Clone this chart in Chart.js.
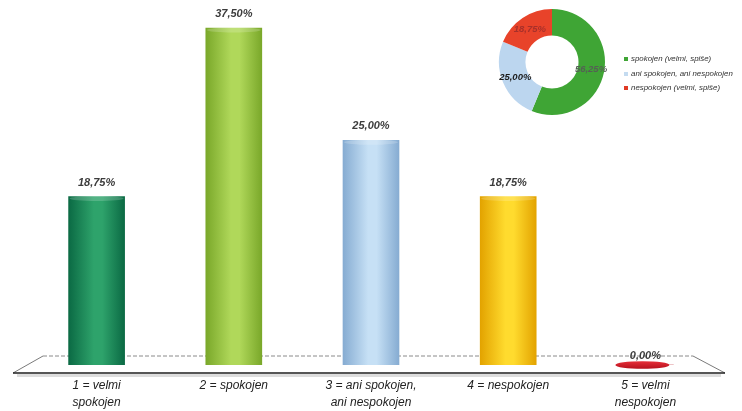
<!DOCTYPE html>
<html>
<head>
<meta charset="utf-8">
<script src="https://cdn.jsdelivr.net/npm/chart.js@4"></script>
<style>
  html,body{margin:0;padding:0;background:#fff;}
  #wrap{position:relative;width:742px;height:411px;overflow:hidden;}
  #bar{position:absolute;left:0;top:0;}
  #donut{position:absolute;left:496px;top:6px;}
  .leg{position:absolute;left:624px;font:italic 7.9px "Liberation Sans",Arial,sans-serif;color:#333;white-space:nowrap;}
  .leg span{display:inline-block;width:4px;height:4px;margin-right:3px;vertical-align:middle;}
</style>
</head>
<body>
<div id="wrap">
  <canvas id="bar" width="742" height="411"></canvas>
  <canvas id="donut" width="112" height="112"></canvas>
  <div class="leg" style="top:54px"><span style="background:#3fa535"></span>spokojen (velmi, spiše)</div>
  <div class="leg" style="top:69px"><span style="background:#c4dbf0"></span>ani spokojen, ani nespokojen</div>
  <div class="leg" style="top:83px"><span style="background:#e03a25"></span>nespokojen (velmi, spiše)</div>
</div>
<script>
// ---- data ----
const categories = [["1 = velmi","spokojen"],"2 = spokojen",["3 = ani spokojen,","ani nespokojen"],"4 = nespokojen",["5 = velmi","nespokojen"]];
const barValues = [18.75, 37.50, 25.00, 18.75, 0.00];
const barEdgeColors = ["#0b6a44","#7aa82a","#86acd2","#e3a300","#b8101e"];
const barMidColors  = ["#2ea36b","#b0d85a","#c6e0f5","#ffdb2e","#e02a34"];

const donutLabels = ["spokojen (velmi, spiše)","ani spokojen, ani nespokojen","nespokojen (velmi, spiše)"];
const donutValues = [56.25, 25.00, 18.75];
const donutColors = ["#3fa535","#bcd6ef","#e8432a"];
const donutTextColors = ["#555f55","#1a1a1a","#a8302a"];

const fmt = v => v.toFixed(2).replace('.', ',') + '%';
const BAR_W = 56;

// ---- bar chart ----
const floorPlugin = {
  id:'floor',
  beforeDatasetsDraw(chart){
    const {ctx, chartArea:a, scales} = chart;
    const base = scales.y.getPixelForValue(0);
    const yt = base - 9, yb = base + 8;
    const tl = a.left + 15, bl = a.left - 15, tr = a.right - 21, br = a.right + 11;
    ctx.save();
    ctx.strokeStyle = 'rgba(120,120,120,0.25)';
    ctx.lineWidth = 3;
    ctx.beginPath(); ctx.moveTo(bl+4, yb+2.5); ctx.lineTo(br-4, yb+2.5); ctx.stroke();
    ctx.strokeStyle = '#8a8a8a';
    ctx.lineWidth = 1;
    ctx.setLineDash([4,2]);
    ctx.beginPath(); ctx.moveTo(tl, yt); ctx.lineTo(tr, yt); ctx.stroke();
    ctx.setLineDash([]);
    ctx.strokeStyle = '#7a7a7a';
    ctx.beginPath(); ctx.moveTo(tl, yt); ctx.lineTo(bl, yb); ctx.stroke();
    ctx.beginPath(); ctx.moveTo(tr, yt); ctx.lineTo(br, yb); ctx.stroke();
    ctx.strokeStyle = '#1e1e1e';
    ctx.lineWidth = 1.6;
    ctx.beginPath(); ctx.moveTo(bl, yb); ctx.lineTo(br, yb); ctx.stroke();
    ctx.restore();
  },
  afterDatasetsDraw(chart){
    const {ctx, scales} = chart;
    const meta = chart.getDatasetMeta(0);
    const base = scales.y.getPixelForValue(0);
    ctx.save();
    meta.data.forEach((bar, i) => {
      const v = barValues[i];
      if (v === 0) {
        const g = ctx.createLinearGradient(0, base-4, 0, base+4);
        g.addColorStop(0, '#e8303a'); g.addColorStop(1, '#b5101c');
        ctx.fillStyle = g;
        ctx.beginPath(); ctx.ellipse(bar.x - 3, base, 27, 3.8, 0, 0, Math.PI*2); ctx.fill();
      } else {
        ctx.fillStyle = 'rgba(255,255,255,0.18)';
        ctx.beginPath(); ctx.ellipse(bar.x, bar.y + 2, BAR_W/2 - 1, 2.5, 0, 0, Math.PI*2); ctx.fill();
      }
    });
    ctx.fillStyle = '#3c3c3c';
    ctx.font = 'italic bold 11px "Liberation Sans", Arial, sans-serif';
    ctx.textAlign = 'center';
    ctx.textBaseline = 'middle';
    meta.data.forEach((bar, i) => {
      const v = barValues[i];
      const y = v === 0 ? base - 9 : bar.y - 14;
      ctx.fillText(fmt(v), bar.x, y);
    });
    ctx.restore();
  }
};

new Chart(document.getElementById('bar'), {
  type:'bar',
  data:{
    labels: categories,
    datasets:[{
      data: barValues,
      barThickness: BAR_W,
      borderWidth: 0,
      backgroundColor: (c) => {
        const chart = c.chart, i = c.dataIndex;
        if (!chart.chartArea || !chart.scales.x) return barMidColors[i];
        const x = chart.scales.x.getPixelForValue(i);
        const g = chart.ctx.createLinearGradient(x - BAR_W/2, 0, x + BAR_W/2, 0);
        g.addColorStop(0, barEdgeColors[i]);
        g.addColorStop(0.45, barMidColors[i]);
        g.addColorStop(0.6, barMidColors[i]);
        g.addColorStop(1, barEdgeColors[i]);
        return g;
      }
    }]
  },
  options:{
    responsive:false,
    animation:false,
    layout:{padding:{left:28,right:28,top:10,bottom:0}},
    plugins:{legend:{display:false},tooltip:{enabled:false}},
    scales:{
      y:{display:false,min:0,max:39.5},
      x:{
        grid:{display:false,drawTicks:false},
        border:{display:false},
        ticks:{
          color:'#222',
          padding:13,
          maxRotation:0,
          autoSkip:false,
          font:{family:'"Liberation Sans", Arial, sans-serif',size:12,style:'italic',lineHeight:1.35}
        },
        afterFit(s){ s.height = 46; }
      }
    }
  },
  plugins:[floorPlugin]
});

// ---- donut ----
const donutLabelPlugin = {
  id:'donutLabels',
  afterDatasetsDraw(chart){
    const {ctx} = chart;
    const meta = chart.getDatasetMeta(0);
    ctx.save();
    ctx.font = 'italic bold 9.5px "Liberation Sans", Arial, sans-serif';
    ctx.textAlign = 'center';
    ctx.textBaseline = 'middle';
    meta.data.forEach((arc, i) => {
      const p = arc.getCenterPoint();
      ctx.fillStyle = donutTextColors[i];
      ctx.fillText(fmt(donutValues[i]), p.x, p.y);
    });
    ctx.restore();
  }
};

new Chart(document.getElementById('donut'), {
  type:'doughnut',
  data:{
    labels: donutLabels,
    datasets:[{data: donutValues, backgroundColor: donutColors, borderWidth: 0}]
  },
  options:{
    responsive:false,
    animation:false,
    cutout:'50%',
    layout:{padding:3},
    plugins:{legend:{display:false},tooltip:{enabled:false}}
  },
  plugins:[donutLabelPlugin]
});
</script>
</body>
</html>
